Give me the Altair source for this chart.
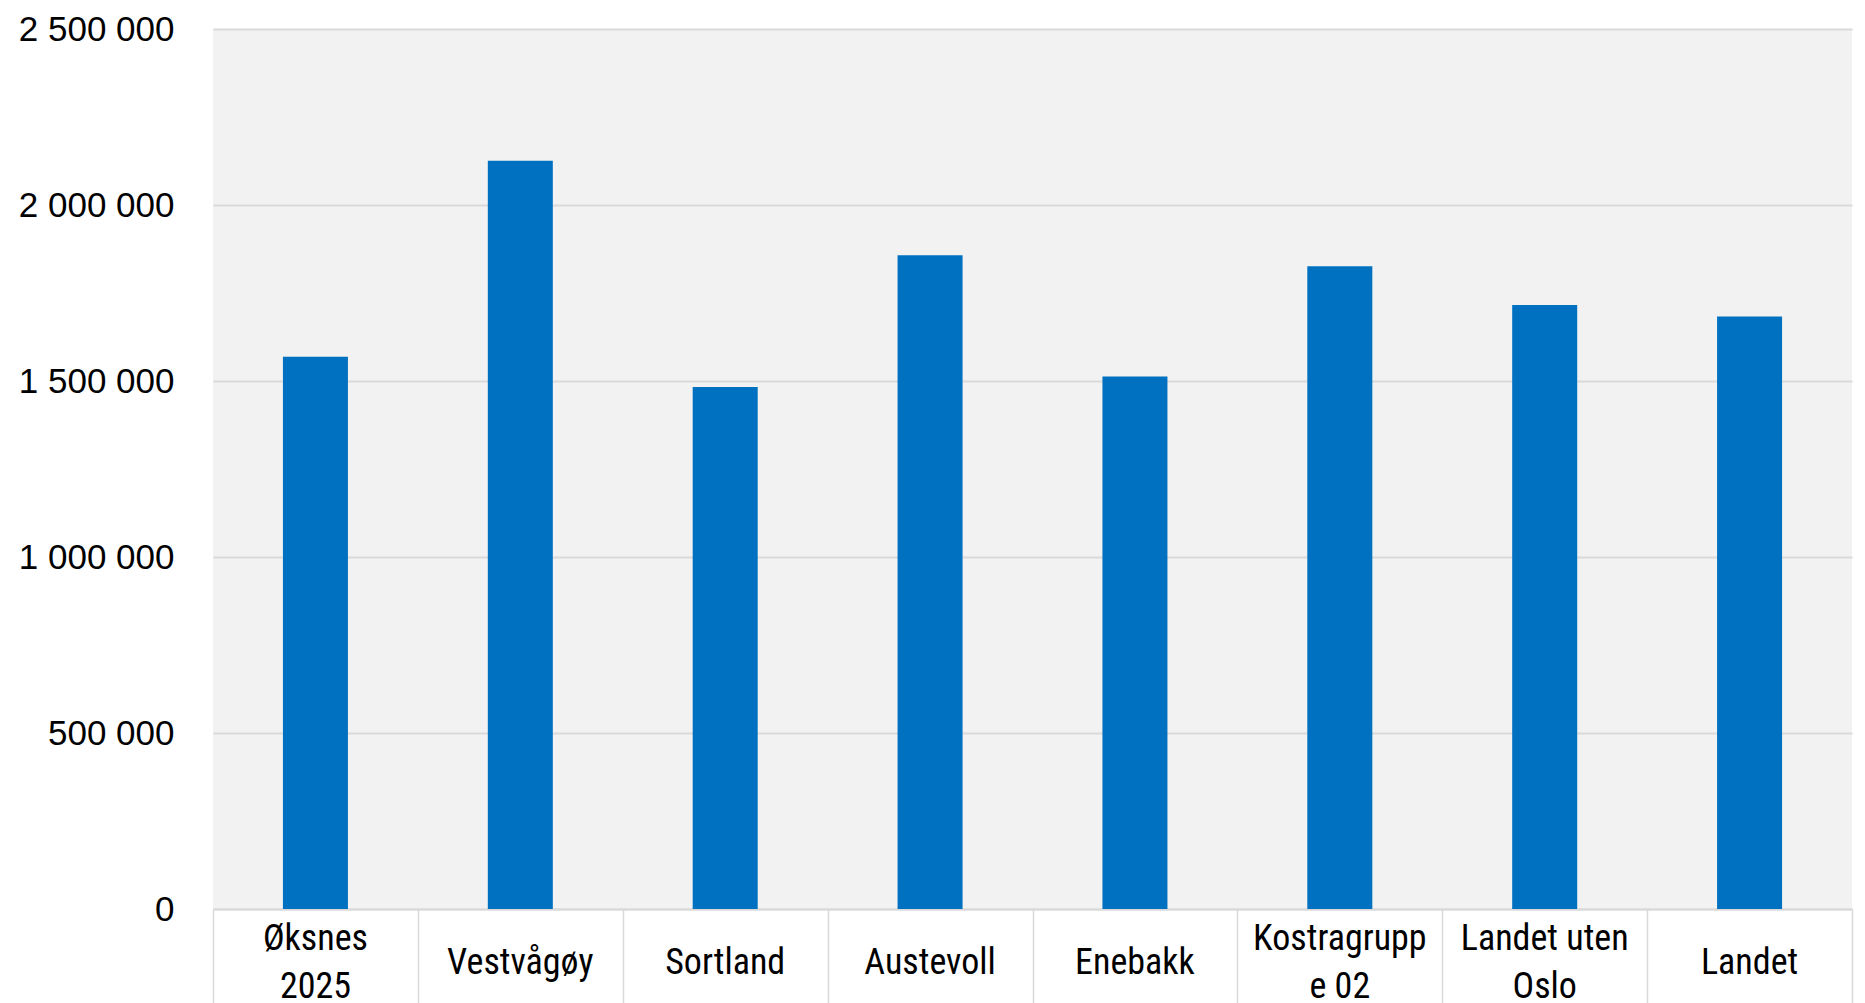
import altair as alt
import pandas as pd

categories = ["Øksnes\n2025", "Vestvågøy", "Sortland", "Austevoll", "Enebakk",
              "Kostragrupp\ne 02", "Landet uten\nOslo", "Landet"]
values = [1569000, 2126000, 1483000, 1857000, 1513000, 1826000, 1716000, 1683000]
y_ticks = [0, 500000, 1000000, 1500000, 2000000, 2500000]

df = pd.DataFrame({"kategori": categories, "verdi": values})

PLOT_W, PLOT_H = 1639, 880

base = alt.Chart(df)

bars = base.mark_bar(color="#0070C0", size=65).encode(
    x=alt.X("kategori:N", sort=categories, title=None,
            scale=alt.Scale(paddingInner=0, paddingOuter=0),
            axis=alt.Axis(labels=False, tickBand="extent", tickSize=110,
                          tickColor="#D9D9D9", tickWidth=1.5,
                          domainColor="#D9D9D9", domainWidth=2, grid=False)),
    y=alt.Y("verdi:Q", title=None,
            scale=alt.Scale(domain=[0, 2500000], nice=False),
            axis=alt.Axis(values=y_ticks,
                          labelExpr="replace(format(datum.value, ','), /,/g, ' ')",
                          labelFont="Liberation Sans", labelFontSize=35, labelColor="#000000",
                          labelPadding=39, domain=False, ticks=False,
                          gridColor="#D9D9D9", gridWidth=2)),
)

labels = base.transform_calculate(
    linjer="indexof(datum.kategori, '\\n') >= 0 ? 2 : 1"
).mark_text(
    lineBreak="\n", baseline="middle", align="center", lineHeight=48,
    font="Roboto Condensed, Liberation Sans Narrow, DejaVu Sans Condensed, Liberation Sans",
    fontSize=36, color="#000000",
).encode(
    x=alt.X("kategori:N", sort=categories),
    y=alt.value(PLOT_H + 54),
    yOffset=alt.YOffset("linjer:Q", scale=alt.Scale(domain=[1, 2], range=[0, -24])),
    text="kategori:N",
)

chart = alt.layer(bars, labels).properties(
    width=PLOT_W, height=PLOT_H,
    autosize=alt.AutoSizeParams(type="none"),
    padding={"left": 205, "top": 21, "right": 5, "bottom": 100},
).configure_view(
    fill="#F2F2F2", stroke=None
)

chart.save("out.html", embed_options={"renderer": "svg", "actions": False})
